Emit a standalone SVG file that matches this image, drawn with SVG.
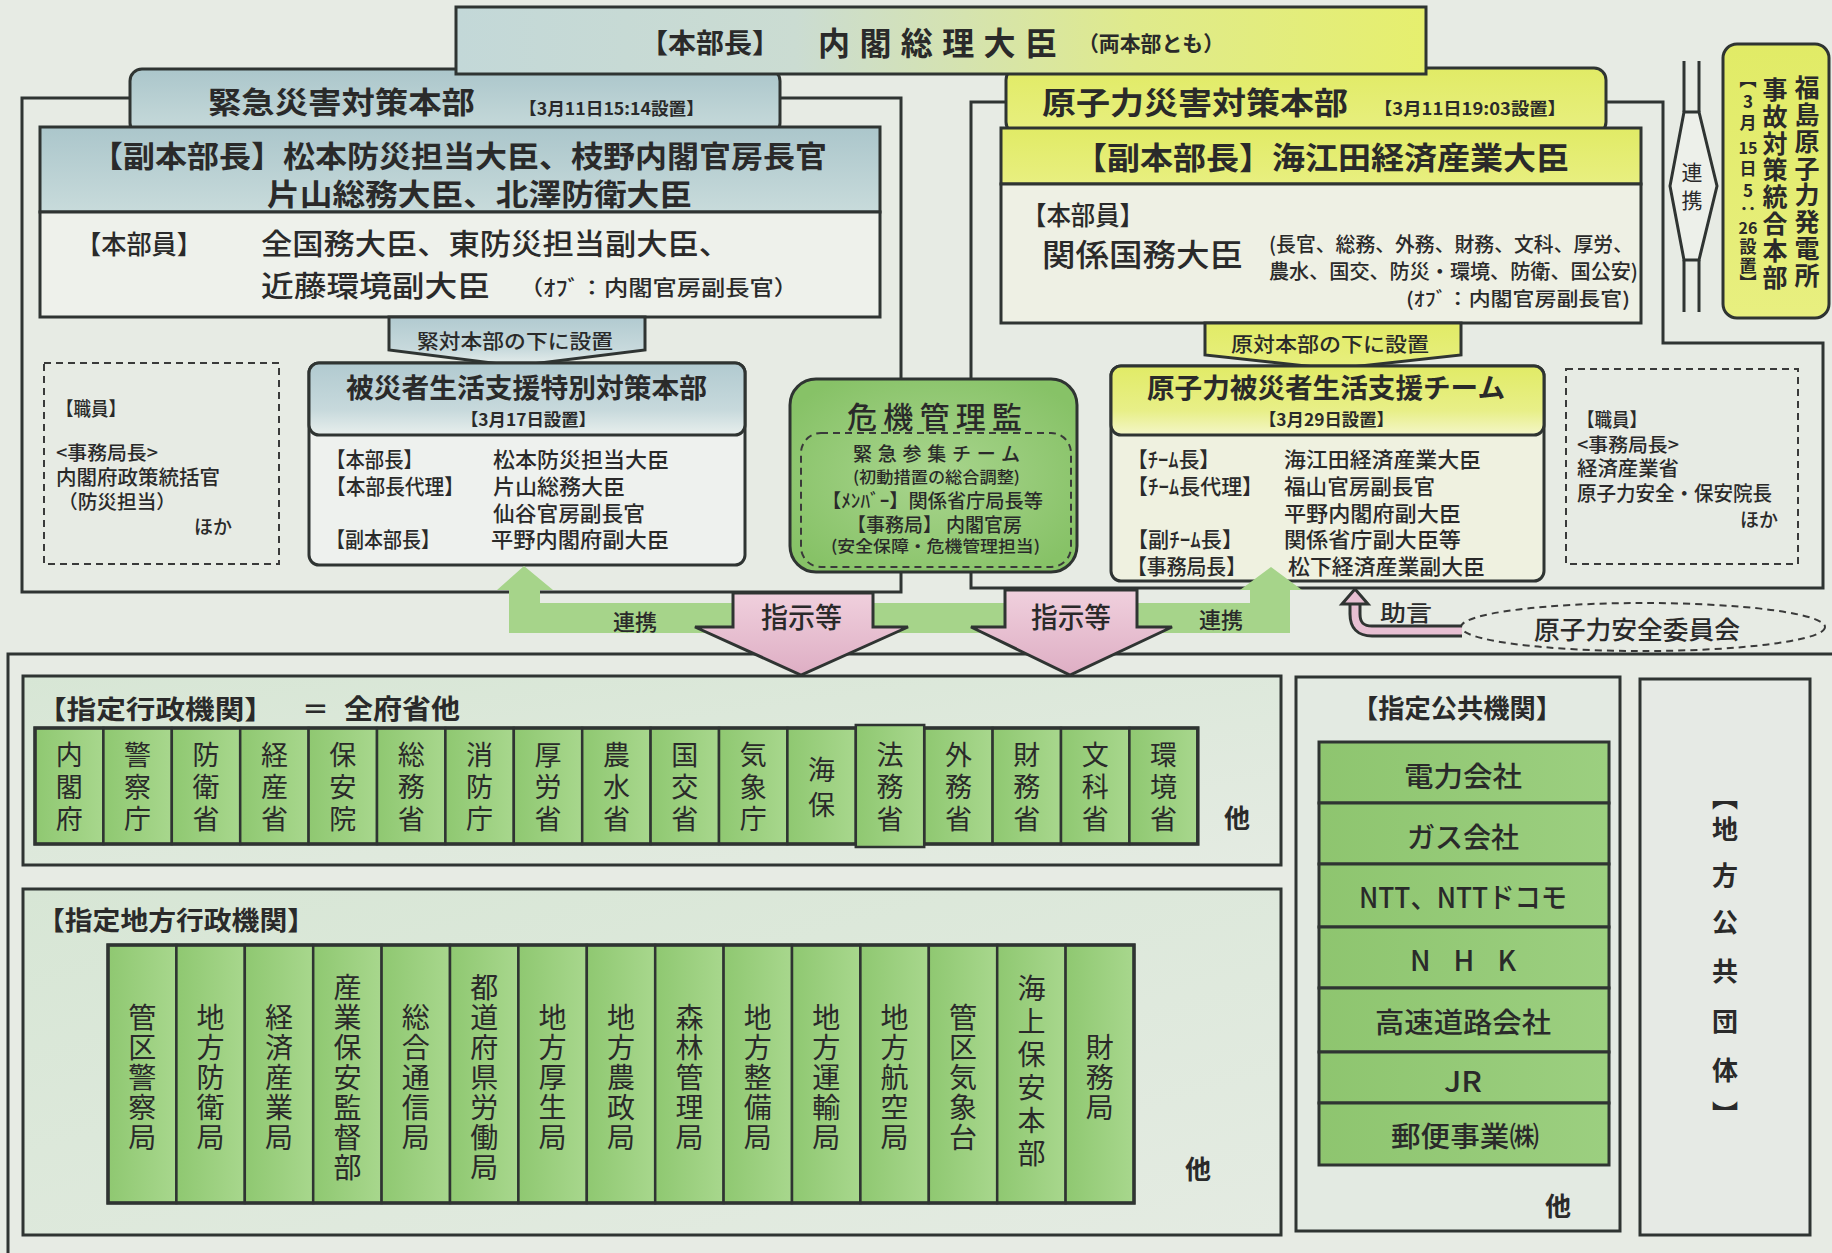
<svg xmlns="http://www.w3.org/2000/svg" width="1832" height="1253" viewBox="0 0 1832 1253">
<defs>
<style>
.t{font-family:"Noto Sans CJK JP","Noto Sans CJK SC",sans-serif;fill:#2a2a2a;dominant-baseline:central;font-weight:500}
.b{font-weight:bold}
.m{text-anchor:middle}
.ln{fill:none;stroke:#2f3432;stroke-width:3}
.bx{stroke:#2f3432;stroke-width:3}
.dsh{fill:none;stroke:#3a3a3a;stroke-width:2;stroke-dasharray:7 5}
.col{fill:url(#gCol);stroke:#2f3432;stroke-width:2.5}
.vt{font-family:"Noto Sans CJK JP","Noto Sans CJK SC",sans-serif;writing-mode:vertical-rl;text-orientation:upright;fill:#2a2a2a}
.u{font-size:27px}
.l{font-size:28px}
.fk{font-size:25px;font-weight:bold}
.fs{font-size:17px;font-weight:bold}
.ck{font-size:26px;font-weight:bold}
.st{fill:url(#gStack);stroke:#2f3432;stroke-width:3}
</style>
<linearGradient id="gTop" x1="0" y1="0" x2="1" y2="0">
<stop offset="0" stop-color="#c3d8d8"/><stop offset="0.35" stop-color="#cbdcd2"/><stop offset="0.7" stop-color="#dfea8c"/><stop offset="1" stop-color="#e6ef6e"/>
</linearGradient>
<linearGradient id="gBlue" x1="0" y1="0" x2="0" y2="1">
<stop offset="0" stop-color="#abc6cb"/><stop offset="1" stop-color="#c8dbdb"/>
</linearGradient>
<linearGradient id="gBlueGloss" x1="0" y1="0" x2="0" y2="1">
<stop offset="0" stop-color="#b1cad0"/><stop offset="0.65" stop-color="#c7d9dc"/><stop offset="1" stop-color="#e8efed"/>
</linearGradient>
<linearGradient id="gYel" x1="0" y1="0" x2="0" y2="1">
<stop offset="0" stop-color="#e1eb66"/><stop offset="1" stop-color="#e8ef80"/>
</linearGradient>
<linearGradient id="gYelGloss" x1="0" y1="0" x2="0" y2="1">
<stop offset="0" stop-color="#e1eb66"/><stop offset="0.65" stop-color="#e8ef88"/><stop offset="1" stop-color="#f4f6c8"/>
</linearGradient>
<radialGradient id="gGreen" cx="0.5" cy="0.5" r="0.6">
<stop offset="0" stop-color="#a9d58e"/><stop offset="1" stop-color="#87c267"/>
</radialGradient>
<linearGradient id="gCol" x1="0" y1="0" x2="1" y2="0">
<stop offset="0" stop-color="#8fc871"/><stop offset="1" stop-color="#a8d78d"/>
</linearGradient>
<linearGradient id="gStack" x1="0" y1="0" x2="1" y2="0">
<stop offset="0" stop-color="#8ec56f"/><stop offset="1" stop-color="#9ccf80"/>
</linearGradient>
<linearGradient id="gPink" x1="0" y1="0" x2="0" y2="1">
<stop offset="0" stop-color="#f0d0dd"/><stop offset="1" stop-color="#deaec4"/>
</linearGradient>
<linearGradient id="gPale" x1="0" y1="0" x2="1" y2="1">
<stop offset="0" stop-color="#d7e6d5"/><stop offset="1" stop-color="#e4ebe2"/>
</linearGradient>
</defs>

<rect x="0" y="0" width="1832" height="1253" fill="#e7ebe4"/>

<g id="kinkyu-hq">
<rect x="22" y="98" width="879" height="494" class="ln"/>
<rect x="130" y="69" width="650" height="66" rx="12" fill="url(#gBlue)" class="bx"/>
<text class="t b" x="208" y="100" font-size="30" textLength="267" lengthAdjust="spacingAndGlyphs">緊急災害対策本部</text>
<text class="t b" x="519" y="107" font-size="17" textLength="185" lengthAdjust="spacingAndGlyphs">【3月11日15:14設置】</text>
</g>

<g id="kinkyu-members">
<rect x="40" y="127" width="840" height="85" fill="url(#gBlue)" class="bx"/>
<rect x="40" y="212" width="840" height="105" fill="#eef1eb" class="bx"/>
<text class="t b" x="91" y="154" font-size="30" textLength="736" lengthAdjust="spacingAndGlyphs">【副本部長】松本防災担当大臣、枝野内閣官房長官</text>
<text class="t b" x="267" y="192" font-size="30" textLength="425" lengthAdjust="spacingAndGlyphs">片山総務大臣、北澤防衛大臣</text>
<text class="t" x="76" y="242" font-size="26" textLength="126" lengthAdjust="spacingAndGlyphs">【本部員】</text>
<text class="t" x="261" y="242" font-size="29" textLength="469" lengthAdjust="spacingAndGlyphs">全国務大臣、東防災担当副大臣、</text>
<text class="t" x="261" y="284" font-size="29" textLength="229" lengthAdjust="spacingAndGlyphs">近藤環境副大臣</text>
<text class="t" x="519" y="286" font-size="21" textLength="279" lengthAdjust="spacingAndGlyphs">（ｵﾌﾞ：内閣官房副長官）</text>
</g>

<g id="kinkyu-sub-label">
<polygon points="389,317 645,317 645,350 516,366 389,350" fill="url(#gBlueGloss)" class="bx"/>
<text class="t" x="417" y="340" font-size="20" textLength="196" lengthAdjust="spacingAndGlyphs">緊対本部の下に設置</text>
</g>

<g id="hisaisha-hq">
<rect x="309" y="363" width="436" height="202" rx="10" fill="#eef1ee" class="bx"/>
<rect x="309" y="363" width="436" height="72" rx="10" fill="url(#gBlueGloss)" class="bx"/>
<text class="t b" x="346" y="386" font-size="27" textLength="361" lengthAdjust="spacingAndGlyphs">被災者生活支援特別対策本部</text>
<text class="t b" x="461" y="418" font-size="17" textLength="135" lengthAdjust="spacingAndGlyphs">【3月17日設置】</text>
<text class="t" x="326" y="458" font-size="21" textLength="97" lengthAdjust="spacingAndGlyphs">【本部長】</text>
<text class="t" x="493" y="458" font-size="21" textLength="176" lengthAdjust="spacingAndGlyphs">松本防災担当大臣</text>
<text class="t" x="326" y="485" font-size="21" textLength="138" lengthAdjust="spacingAndGlyphs">【本部長代理】</text>
<text class="t" x="493" y="485" font-size="21" textLength="132" lengthAdjust="spacingAndGlyphs">片山総務大臣</text>
<text class="t" x="493" y="512" font-size="21" textLength="152" lengthAdjust="spacingAndGlyphs">仙谷官房副長官</text>
<text class="t" x="326" y="538" font-size="21" textLength="114" lengthAdjust="spacingAndGlyphs">【副本部長】</text>
<text class="t" x="491" y="538" font-size="21" textLength="178" lengthAdjust="spacingAndGlyphs">平野内閣府副大臣</text>
</g>

<g id="kinkyu-staff">
<rect x="44" y="363" width="235" height="201" class="dsh"/>
<text class="t" x="56" y="407" font-size="19" textLength="70" lengthAdjust="spacingAndGlyphs">【職員】</text>
<text class="t" x="56" y="451" font-size="19" textLength="102" lengthAdjust="spacingAndGlyphs">&lt;事務局長&gt;</text>
<text class="t" x="56" y="476" font-size="20" textLength="164" lengthAdjust="spacingAndGlyphs">内閣府政策統括官</text>
<text class="t" x="58" y="500" font-size="19" textLength="118" lengthAdjust="spacingAndGlyphs">（防災担当）</text>
<text class="t" x="194" y="525" font-size="19" textLength="38" lengthAdjust="spacingAndGlyphs">ほか</text>
</g>

<g id="genshiryoku-hq">
<path d="M971,102 H1663 V343 H1823 V588 H971 Z" class="ln"/>
<rect x="1006" y="68" width="600" height="66" rx="12" fill="url(#gYel)" class="bx"/>
<text class="t b" x="1042" y="100" font-size="31" textLength="306" lengthAdjust="spacingAndGlyphs">原子力災害対策本部</text>
<text class="t b" x="1374" y="107" font-size="17" textLength="192" lengthAdjust="spacingAndGlyphs">【3月11日19:03設置】</text>
</g>

<g id="genshiryoku-members">
<rect x="1001" y="128" width="640" height="56" fill="url(#gYel)" class="bx"/>
<rect x="1001" y="184" width="640" height="139" fill="#eef0e4" class="bx"/>
<text class="t b" x="1074" y="155" font-size="31" textLength="495" lengthAdjust="spacingAndGlyphs">【副本部長】海江田経済産業大臣</text>
<text class="t" x="1022" y="213" font-size="26" textLength="122" lengthAdjust="spacingAndGlyphs">【本部員】</text>
<text class="t" x="1042" y="252" font-size="31" textLength="201" lengthAdjust="spacingAndGlyphs">関係国務大臣</text>
<text class="t" x="1269" y="243" font-size="20" textLength="364" lengthAdjust="spacingAndGlyphs">(長官、総務、外務、財務、文科、厚労、</text>
<text class="t" x="1269" y="270" font-size="20" textLength="369" lengthAdjust="spacingAndGlyphs">農水、国交、防災・環境、防衛、国公安)</text>
<text class="t" x="1406" y="297" font-size="19" textLength="224" lengthAdjust="spacingAndGlyphs">(ｵﾌﾞ：内閣官房副長官)</text>
</g>

<g id="genshiryoku-sub-label">
<polygon points="1205,323 1461,323 1461,355 1333,369 1205,355" fill="url(#gYel)" class="bx"/>
<text class="t" x="1231" y="343" font-size="20" textLength="198" lengthAdjust="spacingAndGlyphs">原対本部の下に設置</text>
</g>

<g id="genshiryoku-team">
<rect x="1111" y="366" width="433" height="215" rx="10" fill="#eff1e0" class="bx"/>
<rect x="1111" y="366" width="433" height="69" rx="10" fill="url(#gYelGloss)" class="bx"/>
<text class="t b" x="1147" y="386" font-size="27" textLength="358" lengthAdjust="spacingAndGlyphs">原子力被災者生活支援チーム</text>
<text class="t b" x="1259" y="418" font-size="17" textLength="135" lengthAdjust="spacingAndGlyphs">【3月29日設置】</text>
<text class="t" x="1127" y="458" font-size="21" textLength="93" lengthAdjust="spacingAndGlyphs">【ﾁｰﾑ長】</text>
<text class="t" x="1284" y="458" font-size="21" textLength="197" lengthAdjust="spacingAndGlyphs">海江田経済産業大臣</text>
<text class="t" x="1127" y="485" font-size="21" textLength="136" lengthAdjust="spacingAndGlyphs">【ﾁｰﾑ長代理】</text>
<text class="t" x="1284" y="485" font-size="21" textLength="151" lengthAdjust="spacingAndGlyphs">福山官房副長官</text>
<text class="t" x="1284" y="512" font-size="21" textLength="177" lengthAdjust="spacingAndGlyphs">平野内閣府副大臣</text>
<text class="t" x="1127" y="538" font-size="21" textLength="116" lengthAdjust="spacingAndGlyphs">【副ﾁｰﾑ長】</text>
<text class="t" x="1284" y="538" font-size="21" textLength="177" lengthAdjust="spacingAndGlyphs">関係省庁副大臣等</text>
<text class="t" x="1127" y="565" font-size="21" textLength="119" lengthAdjust="spacingAndGlyphs">【事務局長】</text>
<text class="t" x="1288" y="565" font-size="21" textLength="197" lengthAdjust="spacingAndGlyphs">松下経済産業副大臣</text>
</g>

<g id="genshiryoku-staff">
<rect x="1566" y="369" width="232" height="195" class="dsh"/>
<text class="t" x="1577" y="418" font-size="19" textLength="70" lengthAdjust="spacingAndGlyphs">【職員】</text>
<text class="t" x="1577" y="443" font-size="19" textLength="102" lengthAdjust="spacingAndGlyphs">&lt;事務局長&gt;</text>
<text class="t" x="1577" y="467" font-size="20" textLength="102" lengthAdjust="spacingAndGlyphs">経済産業省</text>
<text class="t" x="1577" y="492" font-size="20" textLength="195" lengthAdjust="spacingAndGlyphs">原子力安全・保安院長</text>
<text class="t" x="1740" y="518" font-size="19" textLength="38" lengthAdjust="spacingAndGlyphs">ほか</text>
</g>

<g id="honbucho">
<rect x="456" y="7" width="970" height="67" fill="url(#gTop)" class="bx"/>
<text class="t b" x="640" y="41" font-size="27" textLength="140" lengthAdjust="spacingAndGlyphs">【本部長】</text>
<text class="t b" x="818" y="41" font-size="32" textLength="239" lengthAdjust="spacing">内閣総理大臣</text>
<text class="t b" x="1078" y="42" font-size="21" textLength="146" lengthAdjust="spacingAndGlyphs">（両本部とも）</text>
</g>

<g id="kikikanri">
<rect x="790" y="379" width="287" height="193" rx="26" fill="url(#gGreen)" class="bx"/>
<rect x="801" y="433" width="270" height="134" rx="20" class="dsh"/>
<text class="t" x="847" y="415" font-size="30" textLength="175" lengthAdjust="spacing">危機管理監</text>
<text class="t" x="853" y="452" font-size="19" textLength="167" lengthAdjust="spacing">緊急参集チーム</text>
<text class="t" x="853" y="476" font-size="16" textLength="167" lengthAdjust="spacingAndGlyphs">(初動措置の総合調整)</text>
<text class="t" x="822" y="499" font-size="19" textLength="221" lengthAdjust="spacingAndGlyphs">【ﾒﾝﾊﾞｰ】関係省庁局長等</text>
<text class="t" x="847" y="523" font-size="19" textLength="175" lengthAdjust="spacingAndGlyphs">【事務局】 内閣官房</text>
<text class="t" x="831" y="545" font-size="16" textLength="209" lengthAdjust="spacingAndGlyphs">(安全保障・危機管理担当)</text>
</g>

<g id="fukushima">
<rect x="1723" y="44" width="106" height="274" rx="14" fill="url(#gYel)" class="bx"/>
<text class="vt fk" x="1807" y="74.5">福</text><text class="vt fk" x="1807" y="101.5">島</text><text class="vt fk" x="1807" y="128.5">原</text><text class="vt fk" x="1807" y="155.5">子</text><text class="vt fk" x="1807" y="181.5">力</text><text class="vt fk" x="1807" y="208.5">発</text><text class="vt fk" x="1807" y="235.5">電</text><text class="vt fk" x="1807" y="262.5">所</text>
<text class="vt fk" x="1775" y="76.5">事</text><text class="vt fk" x="1775" y="103.5">故</text><text class="vt fk" x="1775" y="130.5">対</text><text class="vt fk" x="1775" y="156.5">策</text><text class="vt fk" x="1775" y="183.5">統</text><text class="vt fk" x="1775" y="210.5">合</text><text class="vt fk" x="1775" y="237.5">本</text><text class="vt fk" x="1775" y="264.5">部</text>
<text class="vt fs" x="1748" y="71">【</text><text class="vt fs" x="1748" y="93.5">3</text><text class="vt fs" x="1748" y="114.5">月</text>
<text class="t b m" x="1748" y="147" font-size="16">15</text>
<text class="vt fs" x="1748" y="160.5">日</text><text class="vt fs" x="1748" y="182.5">5</text><text class="vt fs" x="1748" y="200.5">：</text>
<text class="t b m" x="1748" y="227" font-size="16">26</text>
<text class="vt fs" x="1748" y="238">設</text><text class="vt fs" x="1748" y="257.5">置</text><text class="vt fs" x="1748" y="274">】</text>
</g>

<g id="frame">
<path d="M8,1253 V654 H1832" class="ln"/>
</g>

<g id="shitei-gyosei">
<rect x="23" y="676" width="1258" height="189" fill="url(#gPale)" class="bx"/>
<text class="t b" x="37" y="707" font-size="26" textLength="237" lengthAdjust="spacingAndGlyphs">【指定行政機関】</text>
<text class="t b" x="302" y="707" font-size="26" textLength="27" lengthAdjust="spacingAndGlyphs">＝</text>
<text class="t b" x="344" y="707" font-size="27" textLength="116" lengthAdjust="spacingAndGlyphs">全府省他</text>
<rect x="35" y="728" width="68.4" height="116" class="col"/>
<rect x="103.4" y="728" width="68.4" height="116" class="col"/>
<rect x="171.8" y="728" width="68.4" height="116" class="col"/>
<rect x="240.2" y="728" width="68.4" height="116" class="col"/>
<rect x="308.6" y="728" width="68.4" height="116" class="col"/>
<rect x="377" y="728" width="68.4" height="116" class="col"/>
<rect x="445.4" y="728" width="68.4" height="116" class="col"/>
<rect x="513.8" y="728" width="68.4" height="116" class="col"/>
<rect x="582.2" y="728" width="68.4" height="116" class="col"/>
<rect x="650.6" y="728" width="68.4" height="116" class="col"/>
<rect x="719" y="728" width="68.4" height="116" class="col"/>
<rect x="787.4" y="728" width="68.4" height="116" class="col"/>
<rect x="924.2" y="728" width="68.4" height="116" class="col"/>
<rect x="992.6" y="728" width="68.4" height="116" class="col"/>
<rect x="1061" y="728" width="68.4" height="116" class="col"/>
<rect x="1129.4" y="728" width="68.4" height="116" class="col"/>
<rect x="35" y="728" width="1162.8" height="116" fill="none" stroke="#2f3432" stroke-width="3.5"/>
<rect x="855.8" y="725" width="68.4" height="122" class="col" stroke-width="3.5"/>
<text class="vt u" x="69.2" y="741.5">内</text><text class="vt u" x="69.2" y="773.5">閣</text><text class="vt u" x="69.2" y="805.5">府</text>
<text class="vt u" x="137.6" y="741.5">警</text><text class="vt u" x="137.6" y="773.5">察</text><text class="vt u" x="137.6" y="805.5">庁</text>
<text class="vt u" x="206" y="741.5">防</text><text class="vt u" x="206" y="773.5">衛</text><text class="vt u" x="206" y="805.5">省</text>
<text class="vt u" x="274.4" y="741.5">経</text><text class="vt u" x="274.4" y="773.5">産</text><text class="vt u" x="274.4" y="805.5">省</text>
<text class="vt u" x="342.8" y="741.5">保</text><text class="vt u" x="342.8" y="773.5">安</text><text class="vt u" x="342.8" y="805.5">院</text>
<text class="vt u" x="411.2" y="741.5">総</text><text class="vt u" x="411.2" y="773.5">務</text><text class="vt u" x="411.2" y="805.5">省</text>
<text class="vt u" x="479.6" y="741.5">消</text><text class="vt u" x="479.6" y="773.5">防</text><text class="vt u" x="479.6" y="805.5">庁</text>
<text class="vt u" x="548" y="741.5">厚</text><text class="vt u" x="548" y="773.5">労</text><text class="vt u" x="548" y="805.5">省</text>
<text class="vt u" x="616.4" y="741.5">農</text><text class="vt u" x="616.4" y="773.5">水</text><text class="vt u" x="616.4" y="805.5">省</text>
<text class="vt u" x="684.8" y="741.5">国</text><text class="vt u" x="684.8" y="773.5">交</text><text class="vt u" x="684.8" y="805.5">省</text>
<text class="vt u" x="753.2" y="741.5">気</text><text class="vt u" x="753.2" y="773.5">象</text><text class="vt u" x="753.2" y="805.5">庁</text>
<text class="vt u" x="821.6" y="756.5">海</text><text class="vt u" x="821.6" y="791.5">保</text>
<text class="vt u" x="890" y="741.5">法</text><text class="vt u" x="890" y="773.5">務</text><text class="vt u" x="890" y="805.5">省</text>
<text class="vt u" x="958.4" y="741.5">外</text><text class="vt u" x="958.4" y="773.5">務</text><text class="vt u" x="958.4" y="805.5">省</text>
<text class="vt u" x="1026.8" y="741.5">財</text><text class="vt u" x="1026.8" y="773.5">務</text><text class="vt u" x="1026.8" y="805.5">省</text>
<text class="vt u" x="1095.2" y="741.5">文</text><text class="vt u" x="1095.2" y="773.5">科</text><text class="vt u" x="1095.2" y="805.5">省</text>
<text class="vt u" x="1163.6" y="741.5">環</text><text class="vt u" x="1163.6" y="773.5">境</text><text class="vt u" x="1163.6" y="805.5">省</text>
<text class="t b m" x="1237" y="816" font-size="26">他</text>
</g>

<g id="shitei-chiho">
<rect x="23" y="889" width="1258" height="346" fill="url(#gPale)" class="bx"/>
<text class="t b" x="37" y="918" font-size="26" textLength="278" lengthAdjust="spacingAndGlyphs">【指定地方行政機関】</text>
<rect x="108" y="945" width="68.4" height="258" class="col"/>
<rect x="176.4" y="945" width="68.4" height="258" class="col"/>
<rect x="244.8" y="945" width="68.4" height="258" class="col"/>
<rect x="313.2" y="945" width="68.4" height="258" class="col"/>
<rect x="381.6" y="945" width="68.4" height="258" class="col"/>
<rect x="450" y="945" width="68.4" height="258" class="col"/>
<rect x="518.4" y="945" width="68.4" height="258" class="col"/>
<rect x="586.8" y="945" width="68.4" height="258" class="col"/>
<rect x="655.2" y="945" width="68.4" height="258" class="col"/>
<rect x="723.6" y="945" width="68.4" height="258" class="col"/>
<rect x="792" y="945" width="68.4" height="258" class="col"/>
<rect x="860.4" y="945" width="68.4" height="258" class="col"/>
<rect x="928.8" y="945" width="68.4" height="258" class="col"/>
<rect x="997.2" y="945" width="68.4" height="258" class="col"/>
<rect x="1065.6" y="945" width="68.4" height="258" class="col"/>
<rect x="108" y="945" width="1026" height="258" fill="none" stroke="#2f3432" stroke-width="3.5"/>
<text class="vt l" x="142.2" y="1003">管</text><text class="vt l" x="142.2" y="1033">区</text><text class="vt l" x="142.2" y="1063">警</text><text class="vt l" x="142.2" y="1093">察</text><text class="vt l" x="142.2" y="1123">局</text>
<text class="vt l" x="210.6" y="1003">地</text><text class="vt l" x="210.6" y="1033">方</text><text class="vt l" x="210.6" y="1063">防</text><text class="vt l" x="210.6" y="1093">衛</text><text class="vt l" x="210.6" y="1123">局</text>
<text class="vt l" x="279" y="1003">経</text><text class="vt l" x="279" y="1033">済</text><text class="vt l" x="279" y="1063">産</text><text class="vt l" x="279" y="1093">業</text><text class="vt l" x="279" y="1123">局</text>
<text class="vt l" x="347.4" y="973">産</text><text class="vt l" x="347.4" y="1003">業</text><text class="vt l" x="347.4" y="1033">保</text><text class="vt l" x="347.4" y="1063">安</text><text class="vt l" x="347.4" y="1093">監</text><text class="vt l" x="347.4" y="1123">督</text><text class="vt l" x="347.4" y="1153">部</text>
<text class="vt l" x="415.8" y="1003">総</text><text class="vt l" x="415.8" y="1033">合</text><text class="vt l" x="415.8" y="1063">通</text><text class="vt l" x="415.8" y="1093">信</text><text class="vt l" x="415.8" y="1123">局</text>
<text class="vt l" x="484.2" y="973">都</text><text class="vt l" x="484.2" y="1003">道</text><text class="vt l" x="484.2" y="1033">府</text><text class="vt l" x="484.2" y="1063">県</text><text class="vt l" x="484.2" y="1093">労</text><text class="vt l" x="484.2" y="1123">働</text><text class="vt l" x="484.2" y="1153">局</text>
<text class="vt l" x="552.6" y="1003">地</text><text class="vt l" x="552.6" y="1033">方</text><text class="vt l" x="552.6" y="1063">厚</text><text class="vt l" x="552.6" y="1093">生</text><text class="vt l" x="552.6" y="1123">局</text>
<text class="vt l" x="621" y="1003">地</text><text class="vt l" x="621" y="1033">方</text><text class="vt l" x="621" y="1063">農</text><text class="vt l" x="621" y="1093">政</text><text class="vt l" x="621" y="1123">局</text>
<text class="vt l" x="689.4" y="1003">森</text><text class="vt l" x="689.4" y="1033">林</text><text class="vt l" x="689.4" y="1063">管</text><text class="vt l" x="689.4" y="1093">理</text><text class="vt l" x="689.4" y="1123">局</text>
<text class="vt l" x="757.8" y="1003">地</text><text class="vt l" x="757.8" y="1033">方</text><text class="vt l" x="757.8" y="1063">整</text><text class="vt l" x="757.8" y="1093">備</text><text class="vt l" x="757.8" y="1123">局</text>
<text class="vt l" x="826.2" y="1003">地</text><text class="vt l" x="826.2" y="1033">方</text><text class="vt l" x="826.2" y="1063">運</text><text class="vt l" x="826.2" y="1093">輸</text><text class="vt l" x="826.2" y="1123">局</text>
<text class="vt l" x="894.6" y="1003">地</text><text class="vt l" x="894.6" y="1033">方</text><text class="vt l" x="894.6" y="1063">航</text><text class="vt l" x="894.6" y="1093">空</text><text class="vt l" x="894.6" y="1123">局</text>
<text class="vt l" x="963" y="1003">管</text><text class="vt l" x="963" y="1033">区</text><text class="vt l" x="963" y="1063">気</text><text class="vt l" x="963" y="1093">象</text><text class="vt l" x="963" y="1123">台</text>
<text class="vt l" x="1031.4" y="974">海</text><text class="vt l" x="1031.4" y="1007">上</text><text class="vt l" x="1031.4" y="1040">保</text><text class="vt l" x="1031.4" y="1073">安</text><text class="vt l" x="1031.4" y="1106">本</text><text class="vt l" x="1031.4" y="1139">部</text>
<text class="vt l" x="1099.8" y="1033">財</text><text class="vt l" x="1099.8" y="1063">務</text><text class="vt l" x="1099.8" y="1093">局</text>
<text class="t b m" x="1198" y="1167" font-size="26">他</text>
</g>

<g id="shitei-kokyo">
<rect x="1296" y="677" width="324" height="554" fill="#e3eae2" class="bx"/>
<text class="t b" x="1352" y="706" font-size="26" textLength="210" lengthAdjust="spacingAndGlyphs">【指定公共機関】</text>
<rect x="1319" y="742" width="290" height="61" class="st"/>
<rect x="1319" y="803" width="290" height="61" class="st"/>
<rect x="1319" y="864" width="290" height="63" class="st"/>
<rect x="1319" y="927" width="290" height="61" class="st"/>
<rect x="1319" y="988" width="290" height="64" class="st"/>
<rect x="1319" y="1052" width="290" height="51" class="st"/>
<rect x="1319" y="1103" width="290" height="62" class="st"/>
<text class="t m" x="1463" y="775" font-size="28" textLength="118" lengthAdjust="spacingAndGlyphs">電力会社</text>
<text class="t m" x="1463" y="836" font-size="28" textLength="112" lengthAdjust="spacingAndGlyphs">ガス会社</text>
<text class="t m" x="1463" y="896" font-size="28" textLength="208" lengthAdjust="spacingAndGlyphs">NTT、NTTドコモ</text>
<text class="t m" x="1463" y="959" font-size="28" textLength="106" lengthAdjust="spacing">N H K</text>
<text class="t m" x="1463" y="1021" font-size="28" textLength="176" lengthAdjust="spacingAndGlyphs">高速道路会社</text>
<text class="t m" x="1463" y="1080" font-size="28" textLength="38" lengthAdjust="spacingAndGlyphs">JR</text>
<text class="t m" x="1465" y="1135" font-size="28" textLength="148" lengthAdjust="spacingAndGlyphs">郵便事業㈱</text>
<text class="t b m" x="1558" y="1204" font-size="26">他</text>
</g>

<g id="chiho-kokyo">
<rect x="1640" y="679" width="170" height="556" fill="#e6eae5" class="bx"/>
<text class="vt ck" x="1725" y="784">【</text>
<text class="vt ck" x="1725" y="816">地</text>
<text class="vt ck" x="1725" y="862">方</text>
<text class="vt ck" x="1725" y="909">公</text>
<text class="vt ck" x="1725" y="958">共</text>
<text class="vt ck" x="1725" y="1008">団</text>
<text class="vt ck" x="1725" y="1057">体</text>
<text class="vt ck" x="1725" y="1101">】</text>
</g>

<g id="anzen-iinkai">
<ellipse cx="1643" cy="627" rx="182" ry="24" fill="none" stroke="#3a3a3a" stroke-width="2" stroke-dasharray="7 5"/>
<text class="t" x="1534" y="628" font-size="25" textLength="206" lengthAdjust="spacingAndGlyphs">原子力安全委員会</text>
</g>

<g id="connectors">
<path d="M509,633 V590 H497 L524,566 L553,590 H540 V603 H1250 V590 H1240 L1271,567 L1302,590 H1290 V633 Z" fill="#a6d48a"/>
<text class="t" x="613" y="620" font-size="22" textLength="44" lengthAdjust="spacingAndGlyphs">連携</text>
<text class="t" x="1199" y="618" font-size="22" textLength="44" lengthAdjust="spacingAndGlyphs">連携</text>
<path d="M733,593 H873 V627 H908 L801,675 L695,627 H733 Z" fill="url(#gPink)" stroke="#2f3432" stroke-width="3"/>
<path d="M1005,590 H1137 V627 H1172 L1070,675 L971,627 H1005 Z" fill="url(#gPink)" stroke="#2f3432" stroke-width="3"/>
<text class="t" x="761" y="616" font-size="28" textLength="81" lengthAdjust="spacingAndGlyphs">指示等</text>
<text class="t" x="1031" y="616" font-size="28" textLength="80" lengthAdjust="spacingAndGlyphs">指示等</text>
<path d="M1462,631 H1372 Q1355,631 1355,614 V603" fill="none" stroke="#2f3432" stroke-width="13"/>
<path d="M1462,631 H1372 Q1355,631 1355,614 V601" fill="none" stroke="#e7bfd2" stroke-width="7"/>
<polygon points="1342,604 1355,589 1368,604" fill="#e7bfd2" stroke="#2f3432" stroke-width="3"/>
<text class="t" x="1380" y="611" font-size="22" textLength="52" lengthAdjust="spacingAndGlyphs">助言</text>
<g id="renkei-vertical">
<path d="M1684,61 V112 M1699,61 V112 M1684,260 V312 M1699,260 V312" class="ln"/>
<path d="M1684,112 H1699 L1717,186 L1699,260 H1684 L1670,186 Z" fill="#edf0ea" class="bx"/>
<text class="vt" x="1692" y="161.5" style="font-size:21px">連</text>
<text class="vt" x="1692" y="189.5" style="font-size:21px">携</text>
</g>
</g>
</svg>
